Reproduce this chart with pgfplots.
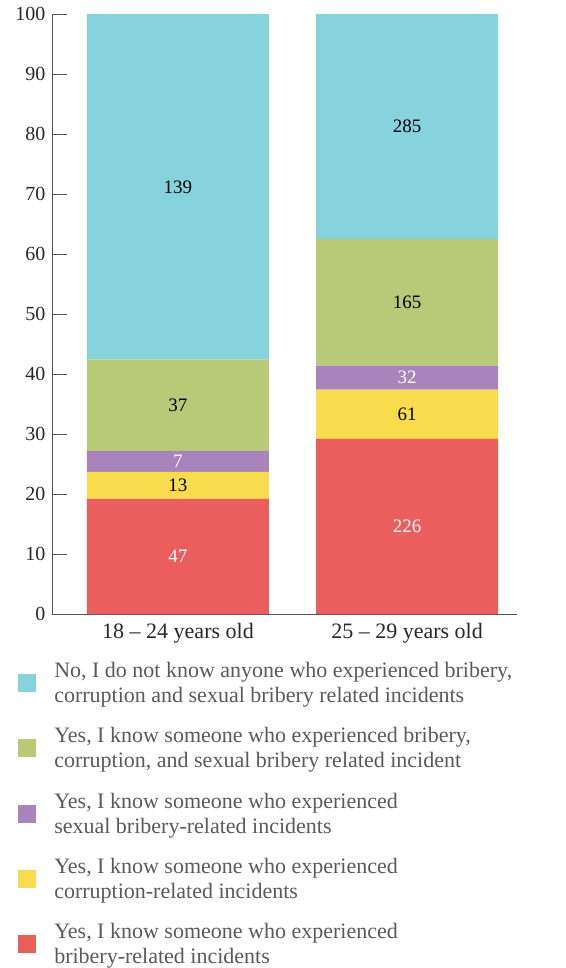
\documentclass[border=0pt]{standalone}
\usepackage{fontspec}
\setmainfont{Liberation Serif}
\usepackage{pgfplots}
\pgfplotsset{compat=1.18}
\usepackage{pgfplotstable}

\definecolor{cBlue}{RGB}{134,211,221}
\definecolor{cGreen}{RGB}{184,201,120}
\definecolor{cPurple}{RGB}{168,131,188}
\definecolor{cYellow}{RGB}{248,220,78}
\definecolor{cRed}{RGB}{235,94,94}
\definecolor{axisgray}{RGB}{85,85,85}
\definecolor{ticktext}{RGB}{40,40,40}
\definecolor{legtext}{RGB}{90,90,90}

% segment height (%) as drawn, and the count printed on it
\pgfplotstableread{
x pct n
0 19.2 47
1 29.2 226
}\bribery
\pgfplotstableread{
x pct n
0 4.5 13
1 8.2 61
}\corruption
\pgfplotstableread{
x pct n
0 3.5 7
1 4.0 32
}\sexual
\pgfplotstableread{
x pct n
0 15.2 37
1 21.1 165
}\allthree
\pgfplotstableread{
x pct n
0 57.6 139
1 37.5 285
}\noone

\begin{document}
\begin{tikzpicture}
\useasboundingbox (0,0) rectangle (565pt,-968pt);
\begin{axis}[
    at={(52pt,-614pt)}, anchor=south west,
    scale only axis, width=465pt, height=600pt,
    xmin=-0.55, xmax=1.48, ymin=0, ymax=100,
    ybar stacked, bar width=182pt,
    axis x line*=bottom, axis y line*=left,
    axis line style={draw=axisgray, line width=1pt},
    ytick={0,10,...,100},
    xtick={0,1},
    xticklabels={18 – 24 years old, 25 – 29 years old},
    tick align=inside, major tick length=15pt,
    ytick style={draw=axisgray, line width=1pt},
    xtick style={draw=none},
    /pgf/number format/assume math mode=true,
    yticklabel style={font=\fontsize{20}{20}\selectfont, text=ticktext, xshift=-3pt},
    xticklabel style={font=\fontsize{22}{22}\selectfont, text=ticktext, yshift=-6pt},
    point meta=explicit,
    nodes near coords={\pgfmathprintnumber{\pgfplotspointmeta}},
    every node near coord/.append style={font=\fontsize{19}{19}\selectfont, anchor=center},
    legend cell align=left,
    legend style={at={(axis description cs:-0.073,-0.08)}, anchor=north west,
        draw=none, fill=none, inner sep=0pt, row sep=23.5pt, column sep=18pt,
        font=\fontsize{22}{25}\selectfont,
        nodes={inner sep=0pt, text=legtext},
        cells={align=left}},
    legend image code/.code={\fill[#1] (0pt,-9pt) rectangle (18pt,9pt);},
    reverse legend,
]
\addplot[fill=cRed, draw=none, every node near coord/.append style={text=white}]
    table[x=x, y=pct, meta=n] {\bribery};
\addlegendentry{Yes, I know someone who experienced\\bribery-related incidents}
\addplot[fill=cYellow, draw=none, every node near coord/.append style={text=black}]
    table[x=x, y=pct, meta=n] {\corruption};
\addlegendentry{Yes, I know someone who experienced\\corruption-related incidents}
\addplot[fill=cPurple, draw=none, every node near coord/.append style={text=white}]
    table[x=x, y=pct, meta=n] {\sexual};
\addlegendentry{Yes, I know someone who experienced\\sexual bribery-related incidents}
\addplot[fill=cGreen, draw=none, every node near coord/.append style={text=black}]
    table[x=x, y=pct, meta=n] {\allthree};
\addlegendentry{Yes, I know someone who experienced bribery,\\corruption, and sexual bribery related incident}
\addplot[fill=cBlue, draw=none, every node near coord/.append style={text=black}]
    table[x=x, y=pct, meta=n] {\noone};
\addlegendentry{No, I do not know anyone who experienced bribery,\\corruption and sexual bribery related incidents}
\end{axis}
\end{tikzpicture}
\end{document}
